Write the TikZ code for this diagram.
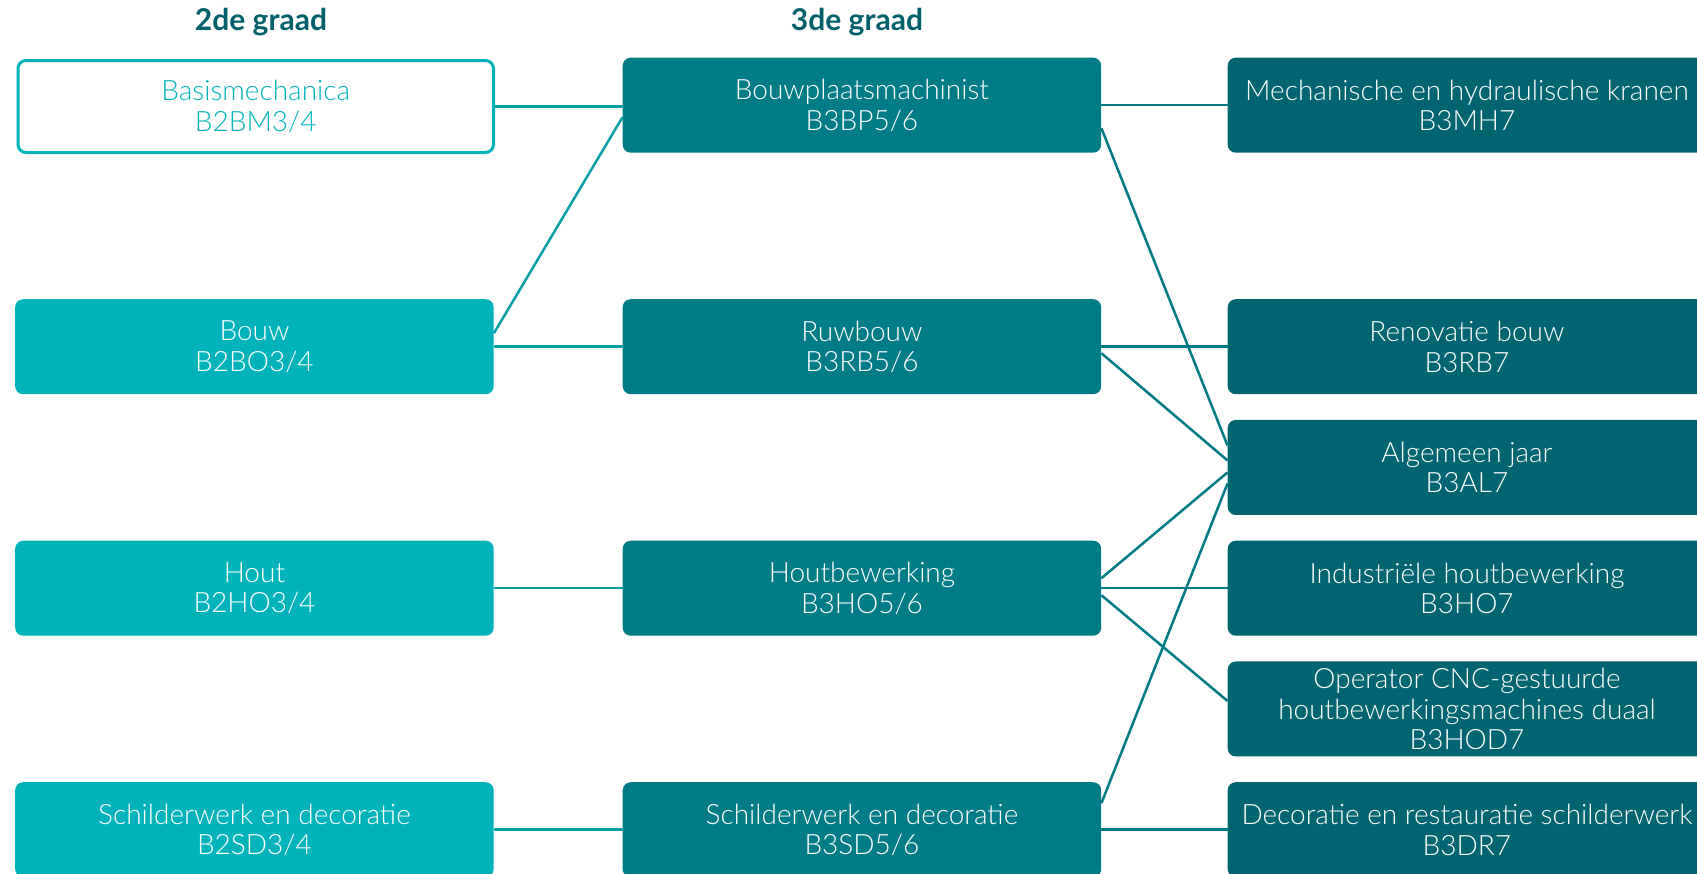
\documentclass[tikz,border=0pt]{standalone}
\usepackage{fontspec}
\setmainfont{Lato}[UprightFont=* Light, BoldFont=* Bold]
\definecolor{cA}{HTML}{00B3BB}
\definecolor{cB}{HTML}{007C87}
\definecolor{cC}{HTML}{006570}
\definecolor{cH}{HTML}{005F6B}
\definecolor{cL}{HTML}{0A9FA8}
\definecolor{cR}{HTML}{007A85}
\begin{document}
\begin{tikzpicture}[x=1pt,y=-1pt,
  box/.style={rounded corners=8pt, minimum width=478.5pt, minimum height=95pt, inner sep=0pt,
    align=center, anchor=north west, font=\fontsize{28}{30.5}\selectfont, text=white},
  boxA/.style={box, fill=cA},
  boxO/.style={box, draw=cA, line width=3pt, fill=white, text=cA, minimum width=475.5pt, minimum height=92pt},
  boxB/.style={box, fill=cB},
  boxC/.style={box, fill=cC},
  head/.style={font=\fontsize{30}{34}\selectfont\bfseries, text=cH},
  linkL/.style={draw=cL, line width=2.5pt},
  linkR/.style={draw=cR, line width=2.5pt}]
\useasboundingbox (0,0) rectangle (1697,873);
\clip (0,0) rectangle (1697,873);
\fill[white] (0,0) rectangle (1697,873);
% headers
\node[head] (h2) at (261,22) {2de graad};
\node[head] (h3) at (857,22) {3de graad};
% column 1
\node[boxO] (bm) at (16.5,59) {Basismechanica\\B2BM3/4};
\node[boxA] (bo) at (15,299) {Bouw\\B2BO3/4};
\node[boxA] (ho2) at (15,540.5) {Hout\\B2HO3/4};
\node[boxA] (sd2) at (15,782) {Schilderwerk en decoratie\\B2SD3/4};
% column 2
\node[boxB] (bp) at (622.5,57.5) {Bouwplaatsmachinist\\B3BP5/6};
\node[boxB] (rb) at (622.5,299) {Ruwbouw\\B3RB5/6};
\node[boxB] (ho3) at (622.5,540.5) {Houtbewerking\\B3HO5/6};
\node[boxB] (sd3) at (622.5,782) {Schilderwerk en decoratie\\B3SD5/6};
% column 3
\node[boxC] (mh) at (1227.5,57.5) {Mechanische en hydraulische kranen\\B3MH7};
\node[boxC] (rb7) at (1227.5,299) {Renovatie bouw\\B3RB7};
\node[boxC] (al) at (1227.5,419.75) {Algemeen jaar\\B3AL7};
\node[boxC] (ho7) at (1227.5,540.5) {Industriële houtbewerking\\B3HO7};
\node[boxC] (hod) at (1227.5,661.25) {Operator CNC-gestuurde\\houtbewerkingsmachines duaal\\B3HOD7};
\node[boxC] (dr) at (1227.5,782) {Decoratie en restauratie schilderwerk\\B3DR7};
% left links
\draw[linkL] (bm.east) -- (bm.east -| bp.west);
\draw[linkL] ([yshift=13.5pt]bo.east) -- ([yshift=-12pt]bp.west);
\draw[linkL] (bo.east) -- (rb.west);
\draw[linkL] (ho2.east) -- (ho3.west);
\draw[linkL] (sd2.east) -- (sd3.west);
% right links
\draw[linkR] (bp.east) -- (mh.west);
\draw[linkR] ([yshift=-23pt]bp.east) -- ([yshift=22pt]al.west);
\draw[linkR] (rb.east) -- (rb7.west);
\draw[linkR] ([yshift=-6.5pt]rb.east) -- ([yshift=7pt]al.west);
\draw[linkR] ([yshift=10pt]ho3.east) -- ([yshift=-5pt]al.west);
\draw[linkR] (ho3.east) -- (ho7.west);
\draw[linkR] ([yshift=-7pt]ho3.east) -- ([yshift=8pt]hod.west);
\draw[linkR] ([yshift=26.5pt]sd3.east) -- ([yshift=-16pt]al.west);
\draw[linkR] (sd3.east) -- (dr.west);
\end{tikzpicture}
\end{document}
